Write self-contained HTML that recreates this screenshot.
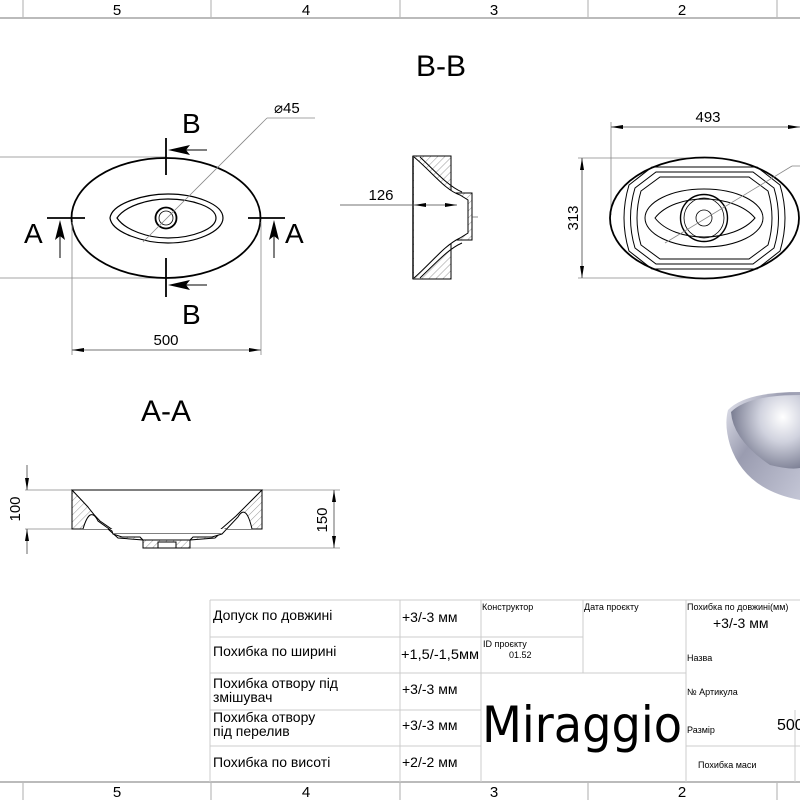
<!DOCTYPE html>
<html><head><meta charset="utf-8"><style>
html,body{margin:0;padding:0;background:#fff;}
svg{display:block;}
text{font-family:"Liberation Sans","DejaVu Sans",sans-serif;fill:#000;}
.t{font-family:"DejaVu Sans Condensed","DejaVu Sans","Liberation Sans",sans-serif;}
</style></head><body>
<svg width="800" height="800" viewBox="0 0 800 800" xmlns="http://www.w3.org/2000/svg">
<defs>
<pattern id="h" width="5" height="5" patternUnits="userSpaceOnUse" patternTransform="rotate(45)">
<line x1="0" y1="0" x2="0" y2="5" stroke="#555" stroke-width="0.6"/></pattern>
<linearGradient id="g" x1="0" y1="0" x2="1" y2="1">
<stop offset="0" stop-color="#e8e9f2"/><stop offset="0.4" stop-color="#9a9cb0"/><stop offset="1" stop-color="#c4c6d6"/></linearGradient>
<radialGradient id="g2" cx="0.75" cy="0.3" r="0.75">
<stop offset="0" stop-color="#ffffff"/><stop offset="0.45" stop-color="#d0d2de"/><stop offset="1" stop-color="#7a7d92"/></radialGradient>
</defs>
<g stroke="#bbb" stroke-width="1.2" fill="none">
<line x1="0" y1="18" x2="800" y2="18" stroke-width="2"/>
<line x1="0" y1="782" x2="800" y2="782" stroke-width="2"/>
<line x1="23" y1="0" x2="23" y2="18"/><line x1="211" y1="0" x2="211" y2="18"/><line x1="400" y1="0" x2="400" y2="18"/><line x1="588" y1="0" x2="588" y2="18"/><line x1="777" y1="0" x2="777" y2="18"/>
<line x1="23" y1="782" x2="23" y2="800"/><line x1="211" y1="782" x2="211" y2="800"/><line x1="400" y1="782" x2="400" y2="800"/><line x1="588" y1="782" x2="588" y2="800"/><line x1="777" y1="782" x2="777" y2="800"/>
</g>
<g font-size="15" text-anchor="middle">
<text x="117" y="15">5</text><text x="306" y="15">4</text><text x="494" y="15">3</text><text x="682" y="15">2</text>
<text x="117" y="797">5</text><text x="306" y="797">4</text><text x="494" y="797">3</text><text x="682" y="797">2</text>
</g>

<text x="441" y="76" font-size="30" text-anchor="middle">B-B</text>
<text x="166" y="421" font-size="30" text-anchor="middle">A-A</text>

<g fill="none" stroke="#000">
<line x1="0" y1="157" x2="166" y2="157" stroke="#888" stroke-width="0.8"/>
<line x1="0" y1="278" x2="166" y2="278" stroke="#888" stroke-width="0.8"/>
<ellipse cx="166" cy="218" rx="94.5" ry="60" stroke-width="1.8"/>
<path d="M110,218 C112,203 145,194 168,194 C195,194 223,204 223,218 C223,232 195,243 168,243 C145,243 112,233 110,218Z" stroke-width="1.2"/>
<path d="M117,218 C125,206 148,199 168,199 C192,199 216,207 216,218 C216,229 192,238 168,238 C148,238 125,230 117,218Z" stroke-width="1.2"/>
<circle cx="166" cy="218" r="10.5" stroke-width="1.8"/>
<circle cx="166" cy="218" r="7" stroke-width="0.8"/>
<line x1="143" y1="242" x2="267" y2="118" stroke="#888" stroke-width="0.8"/>
<line x1="267" y1="118" x2="315" y2="118" stroke="#888" stroke-width="0.8"/>
<line x1="72" y1="222" x2="72" y2="355" stroke="#888" stroke-width="0.8"/>
<line x1="261" y1="222" x2="261" y2="355" stroke="#888" stroke-width="0.8"/>
<line x1="72" y1="350" x2="261" y2="350" stroke="#444" stroke-width="0.8"/>
<line x1="166" y1="138" x2="166" y2="175" stroke-width="1.8"/>
<line x1="166" y1="258" x2="166" y2="297" stroke-width="1.8"/>
<line x1="172" y1="150" x2="207" y2="150" stroke-width="1"/>
<line x1="172" y1="285" x2="207" y2="285" stroke-width="1"/>
<line x1="47" y1="218" x2="85" y2="218" stroke-width="1.8"/>
<line x1="248" y1="218" x2="285" y2="218" stroke-width="1.8"/>
<line x1="60" y1="224" x2="60" y2="258" stroke-width="1"/>
<line x1="274" y1="224" x2="274" y2="258" stroke-width="1"/>
</g>
<g fill="#000">
<path d="M168,150 L190,145 L186,150 L190,155Z"/>
<path d="M168,285 L190,280 L186,285 L190,290Z"/>
<path d="M60,220 L55,240 L60,236 L65,240Z"/>
<path d="M274,220 L269,240 L274,236 L279,240Z"/>
<path d="M72,350 L84,348 L84,352Z"/><path d="M261,350 L249,348 L249,352Z"/>
</g>
<g font-size="28">
<text x="182" y="133">B</text><text x="182" y="324">B</text>
<text x="24" y="243">A</text><text x="285" y="243">A</text>
</g>
<text x="166" y="345" font-size="15" text-anchor="middle">500</text>
<text x="274" y="113" font-size="15">⌀45</text>

<g stroke="#000" stroke-width="1" fill="none">
<path d="M413,156 L451,156 L451,193 L472,193 L472,240 L451,240 L451,279 L413,279Z" fill="url(#h)"/>
<path d="M414,157 C432,172 445,190 460,195 L468,200 L468,233 L460,238 C445,245 432,262 414,278" fill="#fff"/>
<path d="M420,157 C436,172 448,186 462,192" />
<path d="M420,278 C436,263 448,249 462,243" />
<line x1="413" y1="156" x2="413" y2="279" stroke-width="1.4"/>
<line x1="340" y1="205" x2="413" y2="205" stroke="#444" stroke-width="0.8"/>
<line x1="413" y1="205" x2="457" y2="205" stroke="#444" stroke-width="0.8"/>
<line x1="472" y1="217" x2="478" y2="217" stroke="#444" stroke-width="0.6"/>
</g>
<g fill="#000"><path d="M414,205 L426,203 L426,207Z"/><path d="M457,205 L445,203 L445,207Z"/></g>
<text x="381" y="200" font-size="15" text-anchor="middle">126</text>

<g fill="none" stroke="#000">
<line x1="578" y1="158" x2="704" y2="158" stroke="#888" stroke-width="0.8"/>
<line x1="578" y1="278" x2="700" y2="278" stroke="#888" stroke-width="0.8"/>
<line x1="611" y1="122" x2="611" y2="215" stroke="#888" stroke-width="0.8"/>
<line x1="611" y1="127" x2="800" y2="127" stroke="#444" stroke-width="0.8"/>
<line x1="582" y1="158" x2="582" y2="278" stroke="#444" stroke-width="0.8"/>
<ellipse cx="704.5" cy="218" rx="94.5" ry="60.5" stroke-width="1.8"/>
<path d="M652,167 L757,167 L780,185 Q790,218 780,251 L757,269 L652,269 L629,251 Q619,218 629,185Z" stroke-width="1"/>
<path d="M656,172 L753,172 L774,188 Q783,218 774,248 L753,264 L656,264 L635,248 Q626,218 635,188Z" stroke-width="1"/>
<path d="M660,177 L749,177 L768,191 Q776,218 768,245 L749,259 L660,259 L641,245 Q633,218 641,191Z" stroke-width="1"/>
<ellipse cx="704" cy="218" rx="59" ry="29" stroke-width="1"/>
<path d="M655,218 C665,205 685,199 704,199 C725,199 745,206 755,218 C745,230 725,237 704,237 C685,237 665,231 655,218Z" stroke-width="1"/>
<circle cx="704" cy="218" r="23.5" stroke-width="1.4"/>
<circle cx="704" cy="218" r="20" stroke-width="0.8"/>
<circle cx="704" cy="218" r="8" stroke-width="0.8"/>
<line x1="665" y1="243" x2="792" y2="166" stroke="#888" stroke-width="0.8"/>
<line x1="792" y1="166" x2="800" y2="166" stroke="#888" stroke-width="0.8"/>
</g>
<g fill="#000">
<path d="M611,127 L623,125 L623,129Z"/><path d="M800,127 L788,125 L788,129Z"/>
<path d="M582,158 L580,170 L584,170Z"/><path d="M582,278 L580,266 L584,266Z"/>
</g>
<text x="708" y="122" font-size="15" text-anchor="middle">493</text>
<text x="0" y="0" font-size="15" text-anchor="middle" transform="translate(578,218) rotate(-90)">313</text>

<path d="M800,392 Q745,392 728,410 Q724,425 730,445 Q745,490 800,500Z" fill="url(#g)"/>
<path d="M800,395 Q748,395 731,412 Q733,440 770,465 Q790,470 800,468Z" fill="url(#g2)"/>

<g stroke="#000" stroke-width="1" fill="none">
<line x1="25" y1="490" x2="340" y2="490" stroke="#888" stroke-width="0.8"/>
<line x1="25" y1="529" x2="72" y2="529" stroke="#888" stroke-width="0.8"/>
<line x1="190" y1="548" x2="340" y2="548" stroke="#888" stroke-width="0.8"/>
<line x1="27" y1="465" x2="27" y2="490" stroke="#444" stroke-width="0.8"/>
<line x1="27" y1="529" x2="27" y2="554" stroke="#444" stroke-width="0.8"/>
<line x1="334" y1="490" x2="334" y2="548" stroke="#444" stroke-width="0.8"/>
<path d="M72,490 L262,490 L262,529 L225,529 L215,538 L190,540 L190,548 L143,548 L143,540 L118,538 L108,529 L72,529Z" fill="url(#h)"/>
<path d="M72,490 L88,507 Q93,514 100,521 L113,530 L220,530 L236,516 L262,490Z" fill="#fff"/>
<path d="M83,529 Q90,505 98,521 L112,531 L113,534 L222,534 L238,517 Q246,503 252,529" fill="#fff"/>
<path d="M113,534 L122,537 L140,537 L143,540 L190,540 L193,537 L212,537 L222,534" fill="#fff"/>
<rect x="158" y="542" width="18" height="6" fill="#fff"/>
</g>
<g fill="#000">
<path d="M27,490 L25,478 L29,478Z"/><path d="M27,529 L25,541 L29,541Z"/>
<path d="M334,490 L332,502 L336,502Z"/><path d="M334,548 L332,536 L336,536Z"/>
</g>
<text x="0" y="0" font-size="15" text-anchor="middle" transform="translate(20,509) rotate(-90)">100</text>
<text x="0" y="0" font-size="15" text-anchor="middle" transform="translate(327,520) rotate(-90)">150</text>

<g stroke="#ccc" stroke-width="1" fill="none">
<line x1="210" y1="600" x2="800" y2="600"/>
<line x1="210" y1="637" x2="583" y2="637"/>
<line x1="210" y1="673" x2="686" y2="673"/>
<line x1="210" y1="710" x2="481" y2="710"/>
<line x1="210" y1="746" x2="481" y2="746"/>
<line x1="686" y1="746" x2="800" y2="746"/>
<line x1="210" y1="600" x2="210" y2="782"/>
<line x1="400" y1="600" x2="400" y2="782"/>
<line x1="481" y1="600" x2="481" y2="782"/>
<line x1="583" y1="600" x2="583" y2="673"/>
<line x1="686" y1="600" x2="686" y2="782"/>
<line x1="795" y1="710" x2="795" y2="782"/>
</g>
<g class="t" font-size="14">
<text x="213" y="620">Допуск по довжині</text>
<text x="213" y="656">Похибка по ширині</text>
<text x="213" y="688">Похибка отвору під</text>
<text x="213" y="702">змішувач</text>
<text x="213" y="722">Похибка отвору</text>
<text x="213" y="736">під перелив</text>
<text x="213" y="767">Похибка по висоті</text>
<text x="402" y="622">+3/-3 мм</text>
<text x="401" y="659" textLength="78" lengthAdjust="spacingAndGlyphs">+1,5/-1,5мм</text>
<text x="402" y="694">+3/-3 мм</text>
<text x="402" y="730">+3/-3 мм</text>
<text x="402" y="767">+2/-2 мм</text>
<text x="713" y="628">+3/-3 мм</text>
<text x="777" y="730" font-size="16">500</text>
</g>
<g class="t" font-size="9">
<text x="482" y="610">Конструктор</text>
<text x="584" y="610">Дата проєкту</text>
<text x="687" y="610">Похибка по довжині(мм)</text>
<text x="483" y="647">ID проєкту</text>
<text x="509" y="658">01.52</text>
<text x="687" y="661">Назва</text>
<text x="687" y="695">№ Артикула</text>
<text x="687" y="733">Размір</text>
<text x="698" y="768">Похибка маси</text>
</g>
<text x="482" y="742" font-size="50" class="t" textLength="200" lengthAdjust="spacingAndGlyphs">Miraggio</text>
</svg>
</body></html>
